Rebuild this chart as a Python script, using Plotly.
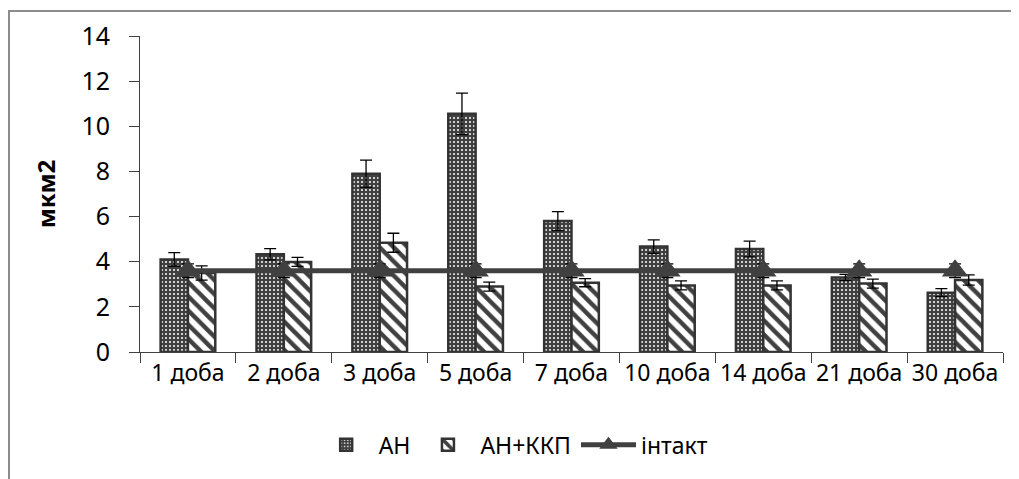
import plotly.graph_objects as go

categories = ["1 доба", "2 доба", "3 доба", "5 доба", "7 доба", "10 доба", "14 доба", "21 доба", "30 доба"]
an_values = [4.1, 4.33, 7.9, 10.55, 5.8, 4.67, 4.56, 3.3, 2.63]
an_errors = [0.3, 0.25, 0.6, 0.92, 0.42, 0.3, 0.35, 0.14, 0.18]
akkp_values = [3.5, 3.99, 4.84, 2.9, 3.07, 2.95, 2.95, 3.03, 3.19]
akkp_errors = [0.32, 0.2, 0.42, 0.2, 0.18, 0.2, 0.2, 0.2, 0.23]
intact_values = [3.6] * 9
intact_errors = [0.3] * 9
y_ticks = [0, 2, 4, 6, 8, 10, 12, 14]

FONT = "Noto Sans"
DARK = "#404040"

fig = go.Figure()
fig.add_trace(go.Bar(
    name="АН", x=categories, y=an_values,
    error_y=dict(type="data", array=an_errors, color="black", thickness=1.3, width=6),
    marker=dict(color=DARK, line=dict(color="#333333", width=2.5),
                pattern=dict(shape=".", fgcolor="white", bgcolor=DARK, size=4, solidity=0.2, fillmode="replace")),
))
fig.add_trace(go.Bar(
    name="АН+ККП", x=categories, y=akkp_values,
    error_y=dict(type="data", array=akkp_errors, color="black", thickness=1.3, width=6),
    marker=dict(color="white", line=dict(color="#333333", width=2.5),
                pattern=dict(shape="\\", fgcolor=DARK, bgcolor="white", size=10, solidity=0.45, fillmode="replace")),
))
fig.add_trace(go.Scatter(
    name="інтакт", x=categories, y=intact_values, mode="lines+markers",
    error_y=dict(type="data", array=intact_errors, color="black", thickness=1.3, width=6),
    line=dict(color=DARK, width=5),
    marker=dict(symbol="triangle-up", size=23, color=DARK),
))

fig.update_layout(
    width=1011, height=471,
    margin=dict(l=132, r=16, t=28, b=127),
    paper_bgcolor="white", plot_bgcolor="white",
    barmode="group", bargap=0.43, bargroupgap=0,
    font=dict(family=FONT, size=23, color="black"),
    showlegend=True,
    legend=dict(orientation="h", x=0.433, xanchor="center", y=-0.294, yanchor="middle",
                font=dict(family=FONT, size=23, color="black"), itemwidth=55,
                bgcolor="rgba(0,0,0,0)"),
    xaxis=dict(type="category", tickson="boundaries", ticks="outside", ticklen=10, tickangle=0,
               tickcolor=DARK, showline=True, linecolor=DARK, linewidth=1, automargin=False,
               showgrid=False, tickfont=dict(family=FONT, size=23), range=[-0.5, 8.5]),
    yaxis=dict(range=[0, 14], tickvals=y_ticks, ticks="outside", ticklen=10, tickcolor=DARK,
               showline=True, linecolor=DARK, linewidth=1, showgrid=False, zeroline=False,
               automargin=False, ticklabelstandoff=14, tickfont=dict(family=FONT, size=25),
               title=dict(text="<b>мкм2</b>", font=dict(family=FONT, size=24), standoff=18)),
    xaxis2=dict(overlaying="x", anchor="y", side="bottom", range=[-0.5, 8.5], tick0=-0.5, dtick=1,
                ticks="inside", ticklen=10, tickcolor=DARK, showticklabels=False, automargin=False,
                showline=False, showgrid=False, zeroline=False),
    yaxis2=dict(overlaying="y", anchor="x", side="left", range=[0, 14], tickvals=y_ticks,
                ticks="inside", ticklen=7, tickcolor=DARK, showticklabels=False, automargin=False,
                showline=False, showgrid=False, zeroline=False),
    shapes=[dict(type="path", xref="paper", yref="paper",
                 path="M -0.1518,-0.6 L -0.1518,1.079 L 1.2,1.079",
                 line=dict(color="#8c8c8c", width=2), layer="below")],
)

fig.write_html("out.html")
